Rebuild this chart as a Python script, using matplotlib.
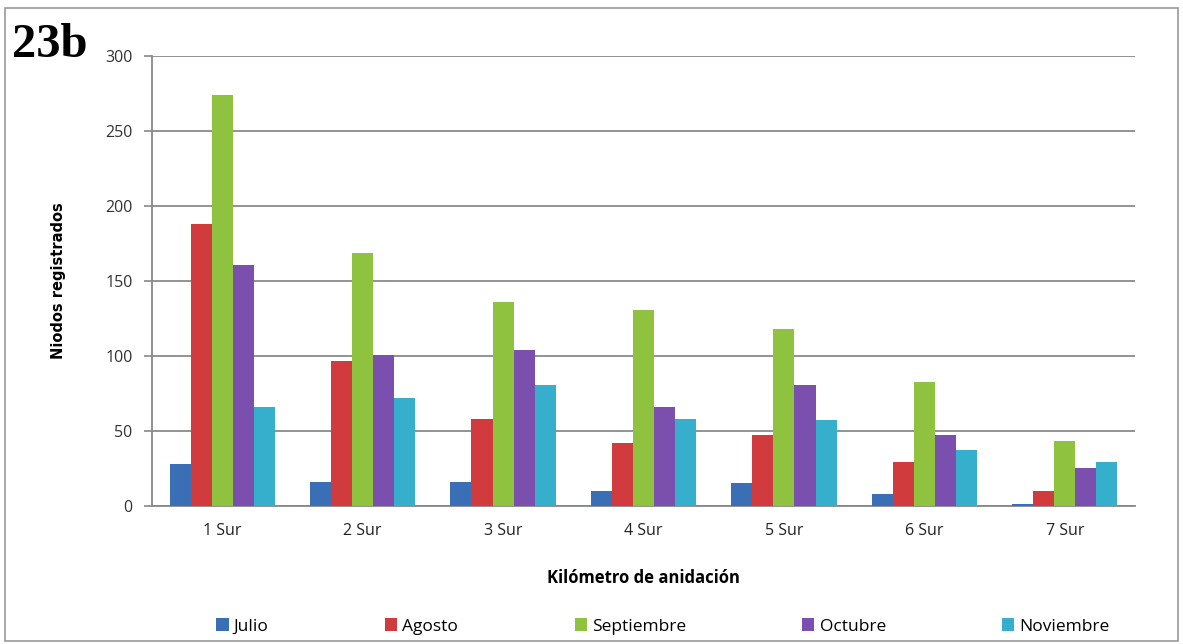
import matplotlib.pyplot as plt
import matplotlib.patches as patches
import numpy as np

# ----- Data ----- #
categories = ["1 Sur", "2 Sur", "3 Sur", "4 Sur", "5 Sur", "6 Sur", "7 Sur"]
months = ["Julio", "Agosto", "Septiembre", "Octubre", "Noviembre"]

julio = [28, 16, 16, 10, 15, 8, 1]
agosto = [188, 97, 58, 42, 47, 29, 10]
septiembre = [274, 169, 136, 131, 118, 83, 43]
octubre = [161, 101, 104, 66, 81, 47, 25]
noviembre = [66, 72, 81, 58, 57, 37, 29]

series = [julio, agosto, septiembre, octubre, noviembre]
colors = ["#3a6fb5", "#d13b3d", "#8fc23f", "#7a4fad", "#35afcb"]

# ----- Plotting ----- #
plt.rcParams['font.family'] = ['Open Sans', 'DejaVu Sans']

fig = plt.figure(figsize=(11.83, 6.44), dpi=100)
ax = fig.add_axes([0.1285, 0.2143, 0.8309, 0.6987])

x = np.arange(len(categories))
width = 0.15
for i, (vals, name) in enumerate(zip(series, months)):
    ax.bar(x + (i - 2) * width, vals, width, color=colors[i], label=name, zorder=3)

ax.set_ylim(0, 300)
ax.set_yticks(np.arange(0, 301, 50))
ax.set_xlim(-0.5, len(categories) - 0.5)
ax.set_xticks(x)
ax.set_xticklabels(categories)
ax.tick_params(axis='x', length=0, pad=12, labelsize=11.5, colors='#222222')
ax.tick_params(axis='y', length=6, width=1.2, color='#888888', pad=8, labelsize=11.5, labelcolor='#333333')

ax.grid(axis='y', color='#8a8a8a', linewidth=1.3, zorder=0)
for s in ['top', 'right']:
    ax.spines[s].set_visible(False)
ax.spines['left'].set_color('#888888')
ax.spines['bottom'].set_color('#888888')
ax.spines['left'].set_linewidth(1.3)
ax.spines['bottom'].set_linewidth(1.3)

ax.set_xlabel("Kilómetro de anidación", fontsize=12, fontweight='bold', labelpad=22)
ax.set_ylabel("Niodos registrados", fontsize=10.5, fontweight='bold', family=['Liberation Sans Narrow', 'DejaVu Sans'], labelpad=28)

ax.legend(loc='upper center', bbox_to_anchor=(0.52, -0.215), ncol=5, frameon=False,
          fontsize=12.5, handlelength=0.7, handleheight=0.7, handletextpad=0.3, columnspacing=6.7)

fig.text(0.010, 0.912, "23b", fontsize=35, fontweight='bold', family='Liberation Serif')

# Outer border of the chart
fig.patches.append(patches.Rectangle((0.004, 0.005), 0.992, 0.982, transform=fig.transFigure,
                                     fill=False, edgecolor='#999999', linewidth=1.2))

fig.savefig("out.png", dpi=100)
